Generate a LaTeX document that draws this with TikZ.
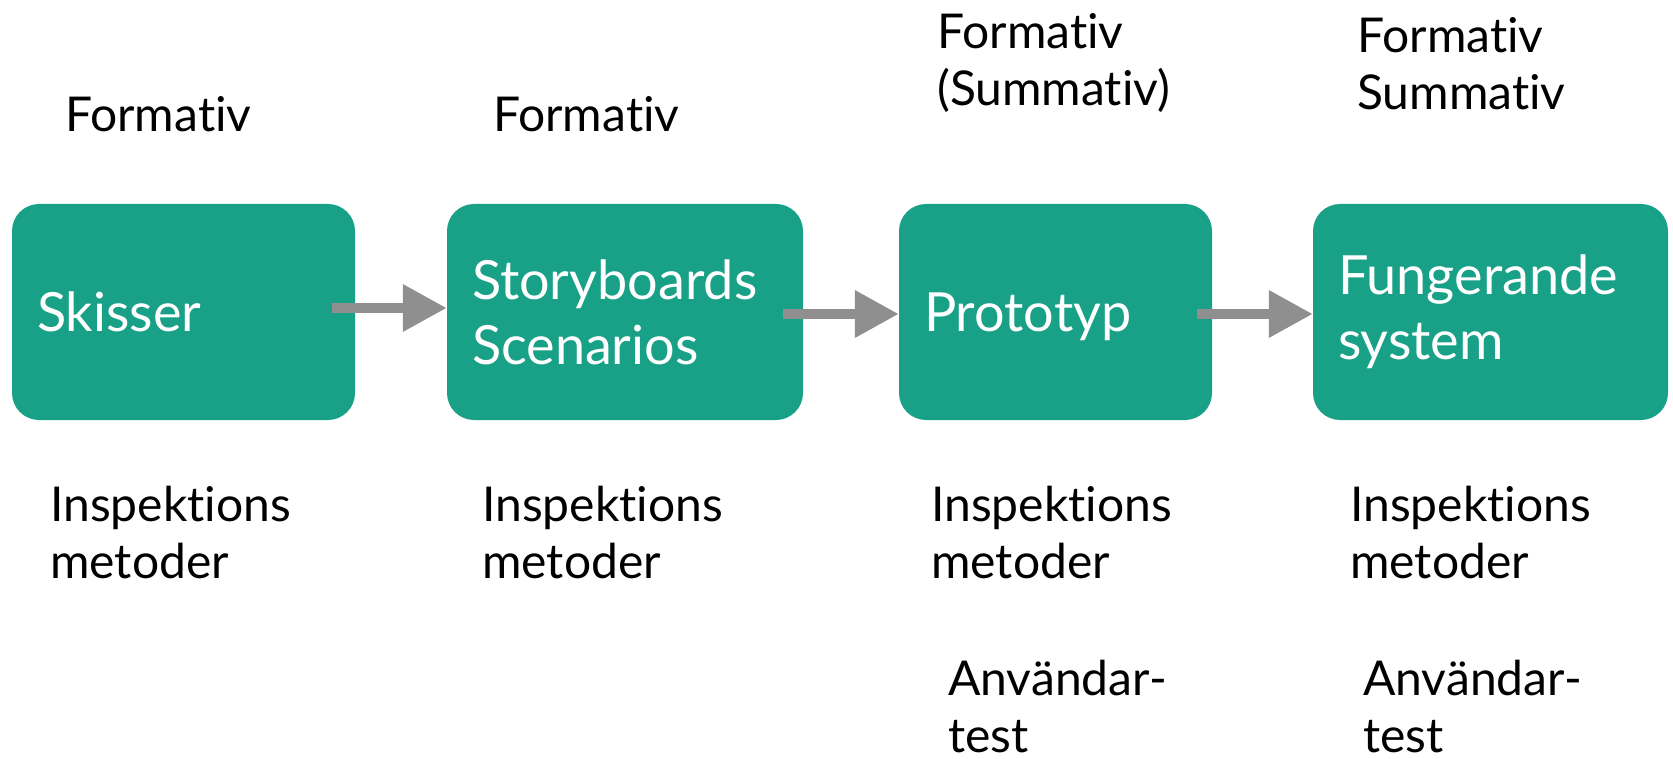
\documentclass[tikz,border=0pt]{standalone}
\usepackage{fontspec}
\setmainfont[Ligatures=NoCommon]{Lato}
\usetikzlibrary{arrows.meta}
\definecolor{stagegreen}{RGB}{24,161,135}
\definecolor{flowgray}{RGB}{143,143,143}
\tikzset{stage/.style={rounded corners=27pt,fill=stagegreen,text=white,align=left,inner xsep=25pt,inner ysep=0pt,minimum height=216pt,font=\fontsize{54}{65}\selectfont}}
\tikzset{note/.style={anchor=base west,align=left,inner sep=0pt,font=\fontsize{48}{57}\selectfont}}
\tikzset{flow/.style={draw=flowgray,line width=10pt,-{Triangle[length=44pt,width=45pt]}}}

\begin{document}
\begin{tikzpicture}[x=1pt,y=-1pt]
            \useasboundingbox (0,0) rectangle (1673,759);

            % the four stages
            \node[stage,text width=293pt] (skisser) at (183.5,312) {Skisser};
            \node[stage,text width=306pt] (story) at (625,312) {Storyboards\\Scenarios};
            \node[stage,text width=263pt,text depth=0pt] (proto) at (1055.5,312) {Prototyp};
            \node[stage,text width=305pt] (system) at (1490.5,312) {Fungerande\\system};

            \draw[flow] ([xshift=-23pt,yshift=4pt]skisser.east) -- ([yshift=4pt]story.west);
            \draw[flow] ([xshift=-20pt,yshift=-2pt]story.east) -- ([yshift=-2pt]proto.west);
            \draw[flow] ([xshift=-15pt,yshift=-2pt]proto.east) -- ([yshift=-2pt]system.west);

            % kind of evaluation (base = last line)
            \node[note] (eval1) at (65,132) {Formativ};
            \node[note] (eval2) at (493,132) {Formativ};
            \node[note] (eval3) at (937,106) {Formativ\\(Summativ)};
            \node[note] (eval4) at (1357,110) {Formativ\\Summativ};

            % methods
            \node[note] (meth1) at (50,578) {Inspektions\\metoder};
            \node[note] (meth2) at (482,578) {Inspektions\\metoder};
            \node[note] (meth3) at (931,578) {Inspektions\\metoder};
            \node[note] (meth4) at (1350,578) {Inspektions\\metoder};
            \node[note] (test3) at (948,752) {Användar-\\test};
            \node[note] (test4) at (1363,752) {Användar-\\test};
        \end{tikzpicture}
\end{document}
